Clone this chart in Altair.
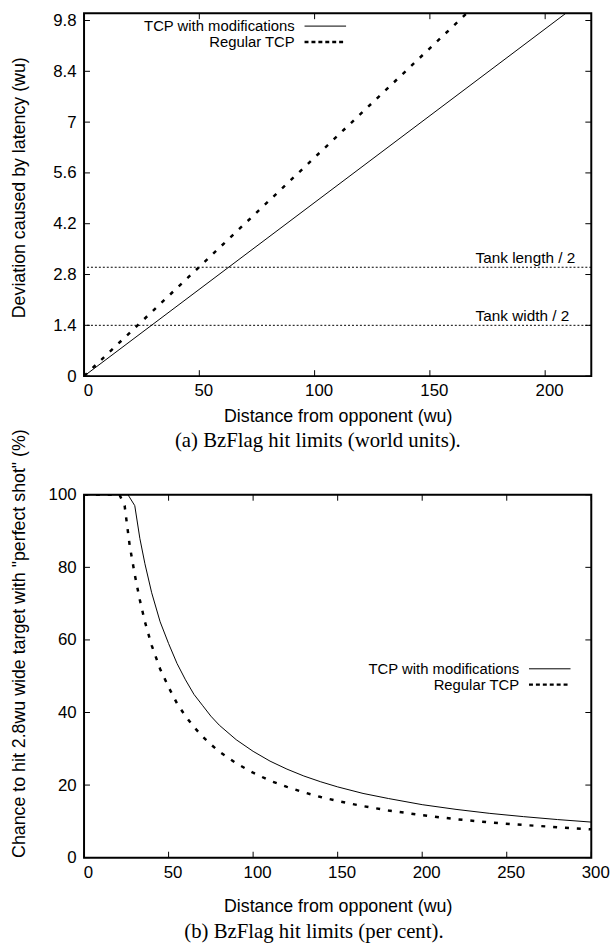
import altair as alt
import pandas as pd

# ---------------- data: panel (a) ----------------
series = ["TCP with modifications", "Regular TCP"]
a_mod_x = [0, 209]
a_mod_y = [0.0, 10.0]
a_reg_x = [0, 166]
a_reg_y = [0.0, 10.0]
tank_levels = [3.0, 1.4]
tank_labels = ["Tank length / 2", "Tank width / 2"]
a_xticks = [0, 50, 100, 150, 200]
a_yticks = [0, 1.4, 2.8, 4.2, 5.6, 7, 8.4, 9.8]
a_xdomain = [0, 220]
a_ydomain = [0, 10]

# ---------------- data: panel (b) ----------------
b_mod_x = [0, 10, 20, 26, 30, 33, 36, 40, 45, 50, 55, 60, 65, 70, 75, 80, 90, 100,
           110, 120, 130, 140, 150, 165, 180, 200, 220, 240, 260, 280, 300]
b_mod_y = [100, 100, 100, 100, 97, 88, 81, 73, 65, 59, 53.5, 49, 45, 42, 39, 36.5, 32.5,
           29.3, 26.6, 24.4, 22.5, 20.9, 19.5, 17.7, 16.3, 14.6, 13.3, 12.2, 11.3, 10.5, 9.8]
b_reg_x = [0, 10, 21, 24, 27, 30, 33, 36, 40, 45, 50, 55, 60, 65, 70, 75, 80, 90, 100,
           110, 120, 130, 140, 150, 165, 180, 200, 220, 240, 260, 280, 300]
b_reg_y = [100, 100, 100, 97, 86, 78, 71, 65, 58.5, 52, 47, 42.5, 39, 36, 33.4, 31.2,
           29.2, 26, 23.4, 21.2, 19.5, 18, 16.7, 15.6, 14.2, 13, 11.7, 10.6, 9.7, 9, 8.4, 7.8]
b_xticks = [0, 50, 100, 150, 200, 250, 300]
b_yticks = [0, 20, 40, 60, 80, 100]
b_xdomain = [0, 300]
b_ydomain = [0, 100]

W, H = 513, 367
SANS = "Liberation Sans"
SERIF = "Liberation Serif"
TICK = 6


def panel(mod_x, mod_y, reg_x, reg_y, xdom, ydom, xticks, yticks, ytitle, ytitle_y,
          legend_right, legend_y, caption, caption_dx, caption_offset, xtitle_pad,
          extras=None):
    xs = alt.Scale(domain=xdom, nice=False, zero=False)
    ys = alt.Scale(domain=ydom, nice=False, zero=False)
    xaxis = alt.Axis(values=xticks, title="Distance from opponent (wu)", ticks=False,
                     domain=False, grid=False, labelFlush=False, labelOverlap=False,
                     labelExpr="'' + datum.value", labelOffset=4,
                     labelFont=SANS, labelFontSize=17, labelPadding=7,
                     labelColor="black", titleFont=SANS, titleFontSize=18,
                     titleFontWeight="normal", titlePadding=xtitle_pad, titleColor="black")
    yaxis = alt.Axis(values=yticks, title=ytitle, ticks=False, domain=False, grid=False,
                     labelExpr="'' + datum.value", labelFlush=False, labelOverlap=False,
                     labelFont=SANS, labelFontSize=17, labelPadding=8, labelColor="black",
                     titleFont=SANS, titleFontSize=18, titleFontWeight="normal",
                     titleColor="black", titleAngle=270, titleBaseline="middle",
                     titleAlign="center", titleX=-65, titleY=ytitle_y)

    def X(f):
        return alt.X(f, scale=xs, axis=xaxis)

    def Y(f):
        return alt.Y(f, scale=ys, axis=yaxis)

    df_mod = pd.DataFrame({"x": mod_x, "y": mod_y})
    df_reg = pd.DataFrame({"x": reg_x, "y": reg_y})

    solid = alt.Chart(df_mod).mark_line(color="black", strokeWidth=1, clip=True).encode(
        x=X("x:Q"), y=Y("y:Q"))
    dashed = alt.Chart(df_reg).mark_line(color="black", strokeWidth=2.5, strokeDash=[4, 8],
                                         clip=True).encode(x=X("x:Q"), y=Y("y:Q"))

    dfx = pd.DataFrame({"x": xticks})
    dfy = pd.DataFrame({"y": yticks})
    tick_style = dict(color="black", strokeWidth=1)
    tb = alt.Chart(dfx).mark_rule(**tick_style).encode(
        x=X("x:Q"), y=alt.value(H), y2=alt.value(H - TICK))
    tt = alt.Chart(dfx).mark_rule(**tick_style).encode(
        x=X("x:Q"), y=alt.value(0), y2=alt.value(TICK))
    tl = alt.Chart(dfy).mark_rule(**tick_style).encode(
        y=Y("y:Q"), x=alt.value(0), x2=alt.value(TICK))
    tr = alt.Chart(dfy).mark_rule(**tick_style).encode(
        y=Y("y:Q"), x=alt.value(W), x2=alt.value(W - TICK))

    layers = [solid, tb, tt, tl, tr]
    if extras is not None:
        layers += extras(X, Y)
    layers += [dashed]

    # legend (text then sample, gnuplot style)
    for i, name in enumerate(series):
        d = pd.DataFrame({"s": [name]})
        layers.append(alt.Chart(d).mark_text(align="right", baseline="middle", font=SANS,
                                             fontSize=15, color="black").encode(
            x=alt.value(legend_right), y=alt.value(legend_y[i]), text="s:N"))
        style = dict(color="black", strokeWidth=1) if i == 0 else dict(
            color="black", strokeWidth=2.5, strokeDash=[4, 3])
        layers.append(alt.Chart(d).mark_rule(**style).encode(
            x=alt.value(legend_right + 10), x2=alt.value(legend_right + 52),
            y=alt.value(legend_y[i])))

    return alt.layer(*layers).properties(
        width=W, height=H,
        title=alt.TitleParams(caption, orient="bottom", anchor="middle", frame="group",
                              font=SERIF, fontSize=21, fontWeight="normal", color="black",
                              dx=caption_dx, offset=caption_offset))


def tank_layers(X, Y):
    d = pd.DataFrame({"y": tank_levels, "label": tank_labels})
    rule = alt.Chart(d).mark_rule(color="black", strokeWidth=1, strokeDash=[2, 2]).encode(
        y=Y("y:Q"))
    txt = alt.Chart(d).mark_text(align="left", baseline="middle", dy=-9, font=SANS,
                                 fontSize=15.5, color="black").encode(
        x=alt.value(396), y=Y("y:Q"), text="label:N")
    return [rule, txt]


top = panel(a_mod_x, a_mod_y, a_reg_x, a_reg_y, a_xdomain, a_ydomain, a_xticks, a_yticks,
            "Deviation caused by latency (wu)", 176, 213, [13, 29],
            "(a) BzFlag hit limits (world units).", -20, 5, 9, extras=tank_layers)
bottom = panel(b_mod_x, b_mod_y, b_reg_x, b_reg_y, b_xdomain, b_ydomain, b_xticks, b_yticks,
               'Chance to hit 2.8wu wide target with "perfect shot" (%)', 150, 440, [176, 192],
               "(b) BzFlag hit limits (per cent).", -24, 6, 17)

chart = alt.vconcat(top, bottom, spacing=120, bounds="flush").properties(
    padding={"left": 9, "top": 5, "right": 5, "bottom": 2},
    background="white"
).configure_view(stroke="black", strokeWidth=2)

chart.save("out.html", embed_options={"renderer": "svg", "actions": False})
